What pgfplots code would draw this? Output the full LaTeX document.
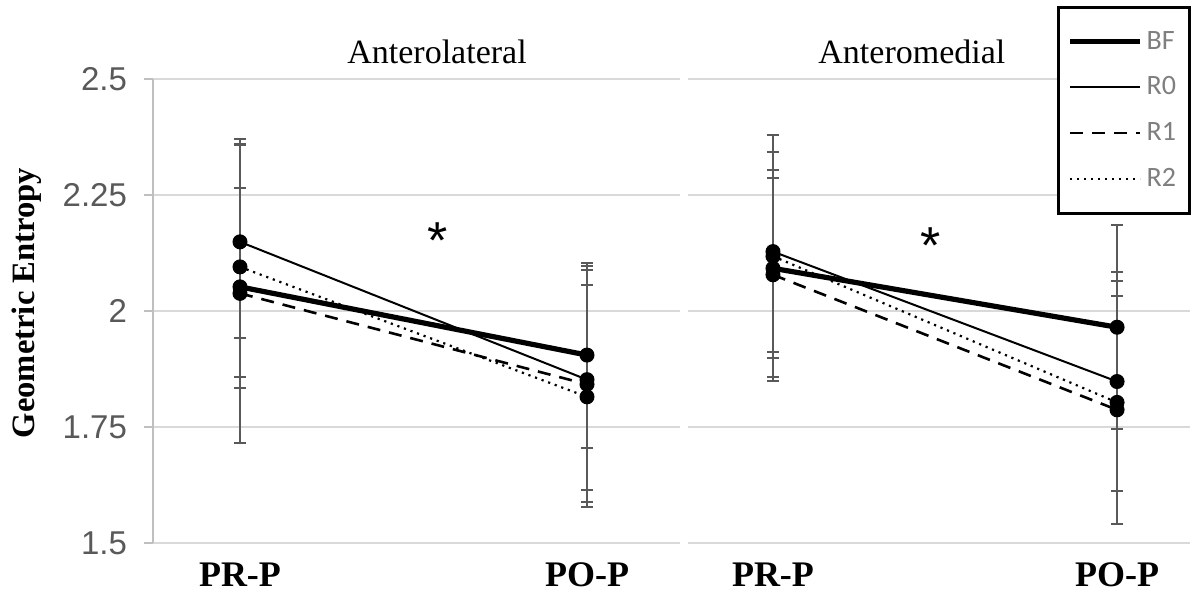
\documentclass[border=0pt]{standalone}
\usepackage{fontspec}
\setmainfont{Liberation Serif}
\newfontfamily\arialf{Liberation Sans}
\newfontfamily\calibri{Carlito}
\usepackage{pgfplots}
\pgfplotsset{compat=1.18}
\definecolor{tickgray}{HTML}{595959}
\definecolor{gridgray}{HTML}{D9D9D9}
\definecolor{axgray}{HTML}{BFBFBF}
\definecolor{errgray}{HTML}{595959}
\definecolor{leggray}{HTML}{7F7F7F}
\pgfplotsset{
  panel/.style={
    scale only axis, height=232pt,
    ymin=1.5, ymax=2.5,
    ytick={1.5,1.75,2,2.25,2.5},
    ymajorgrids, grid style={gridgray, line width=0.75pt},
    xtick={0,1}, xticklabels={PR-P,PO-P},
    axis x line*=bottom, x axis line style={draw=none}, xtick style={draw=none},
    clip=false,
    legend image code/.code={\draw[#1,mark=none] (0pt,0pt) -- (35pt,0pt);},
  },
  bf/.style={black, line width=2.6pt, mark=*, mark size=3.5pt, mark options={solid, fill=black, line width=0.5pt}},
  rzero/.style={black, line width=1pt, mark=*, mark size=3.5pt, mark options={solid, fill=black, line width=0.5pt}},
  rone/.style={black, line width=1.3pt, dash pattern=on 6.5pt off 4.5pt, mark=*, mark size=3.5pt, mark options={solid, fill=black, line width=0.5pt}},
  rtwo/.style={black, line width=1.1pt, dash pattern=on 1.1pt off 2.4pt, mark=*, mark size=3.5pt, mark options={solid, fill=black, line width=0.5pt}},
  errb/.style={error bars/.cd, y dir=both, y explicit,
    error bar style={errgray, line width=1pt, solid},
    error mark options={rotate=90, errgray, mark size=3pt, line width=1pt, solid}},
}
\begin{document}
\begin{tikzpicture}
\useasboundingbox (0,0) rectangle (598pt,296.5pt);
% ---------- left panel ----------
\begin{axis}[panel,
  at={(76.5pt,25pt)}, anchor=south west, width=263.5pt,
  xmin=-0.2507, xmax=1.268,
  axis y line*=left,
  y axis line style={axgray, line width=0.75pt},
  ytick style={axgray, line width=0.75pt},
  tick align=outside, major tick length=4.5pt,
  yticklabels={1.5,1.75,2,2.25,2.5},
  yticklabel style={font=\arialf\fontsize{16.5}{16.5}\selectfont, text=tickgray, xshift=-5pt},
  xticklabel style={font=\bfseries\fontsize{18}{18}\selectfont, anchor=base, yshift=-17.5pt},
  ylabel={Geometric Entropy},
  ylabel style={font=\bfseries\fontsize{16.3}{16.3}\selectfont, at={(axis description cs:-0.239,0.517)}, anchor=center},
  title={Anterolateral},
  title style={font=\fontsize{17}{17}\selectfont, at={(axis description cs:0.539,1.032)}, anchor=center, yshift=0pt},
]
\addplot[bf, errb] table[x=x, y=y, y error plus=ep, y error minus=em]{
x y ep em
0 2.052 0.213 0.217
1 1.905 0.199 0.201
};
\addplot[rzero, errb] table[x=x, y=y, y error plus=ep, y error minus=em]{
x y ep em
0 2.149 0.222 0.207
1 1.852 0.245 0.238
};
\addplot[rone, errb] table[x=x, y=y, y error plus=ep, y error minus=em]{
x y ep em
0 2.038 0.320 0.322
1 1.842 0.246 0.253
};
\addplot[rtwo, errb] table[x=x, y=y, y error plus=ep, y error minus=em]{
x y ep em
0 2.095 0.265 0.237
1 1.815 0.241 0.237
};
\node[font=\arialf\fontsize{26}{26}\selectfont] at (axis cs:0.57,2.152) {*};
\end{axis}
% ---------- right panel ----------
\begin{axis}[panel,
  at={(344pt,25pt)}, anchor=south west, width=251pt,
  xmin=-0.247, xmax=1.212,
  axis y line*=left,
  y axis line style={draw=none}, ytick style={draw=none},
  yticklabels={},
  xticklabel style={font=\bfseries\fontsize{18}{18}\selectfont, anchor=base, yshift=-22pt},
  title={Anteromedial},
  title style={font=\fontsize{17}{17}\selectfont, at={(axis description cs:0.446,1.032)}, anchor=center, yshift=0pt},
  legend style={at={(axis description cs:0.735,1.158)}, anchor=north west,
    draw=black, line width=1.5pt, fill=white,
    font=\calibri\fontsize{14}{14}\selectfont, text=leggray,
    inner xsep=4.5pt, inner ysep=10pt, row sep=8.3pt},
  legend cell align=left,
]
\addplot[bf, errb] table[x=x, y=y, y error plus=ep, y error minus=em]{
x y ep em
0 2.092 0.194 0.194
1 1.965 0.220 0.220
};
\addplot[rzero, errb] table[x=x, y=y, y error plus=ep, y error minus=em]{
x y ep em
0 2.128 0.252 0.271
1 1.848 0.235 0.235
};
\addplot[rone, errb] table[x=x, y=y, y error plus=ep, y error minus=em]{
x y ep em
0 2.078 0.226 0.228
1 1.787 0.245 0.246
};
\addplot[rtwo, errb] table[x=x, y=y, y error plus=ep, y error minus=em]{
x y ep em
0 2.118 0.225 0.206
1 1.803 0.262 0.262
};
\node[font=\arialf\fontsize{26}{26}\selectfont] at (axis cs:0.458,2.14) {*};
\legend{BF,R0,R1,R2}
\end{axis}
\end{tikzpicture}
\end{document}
